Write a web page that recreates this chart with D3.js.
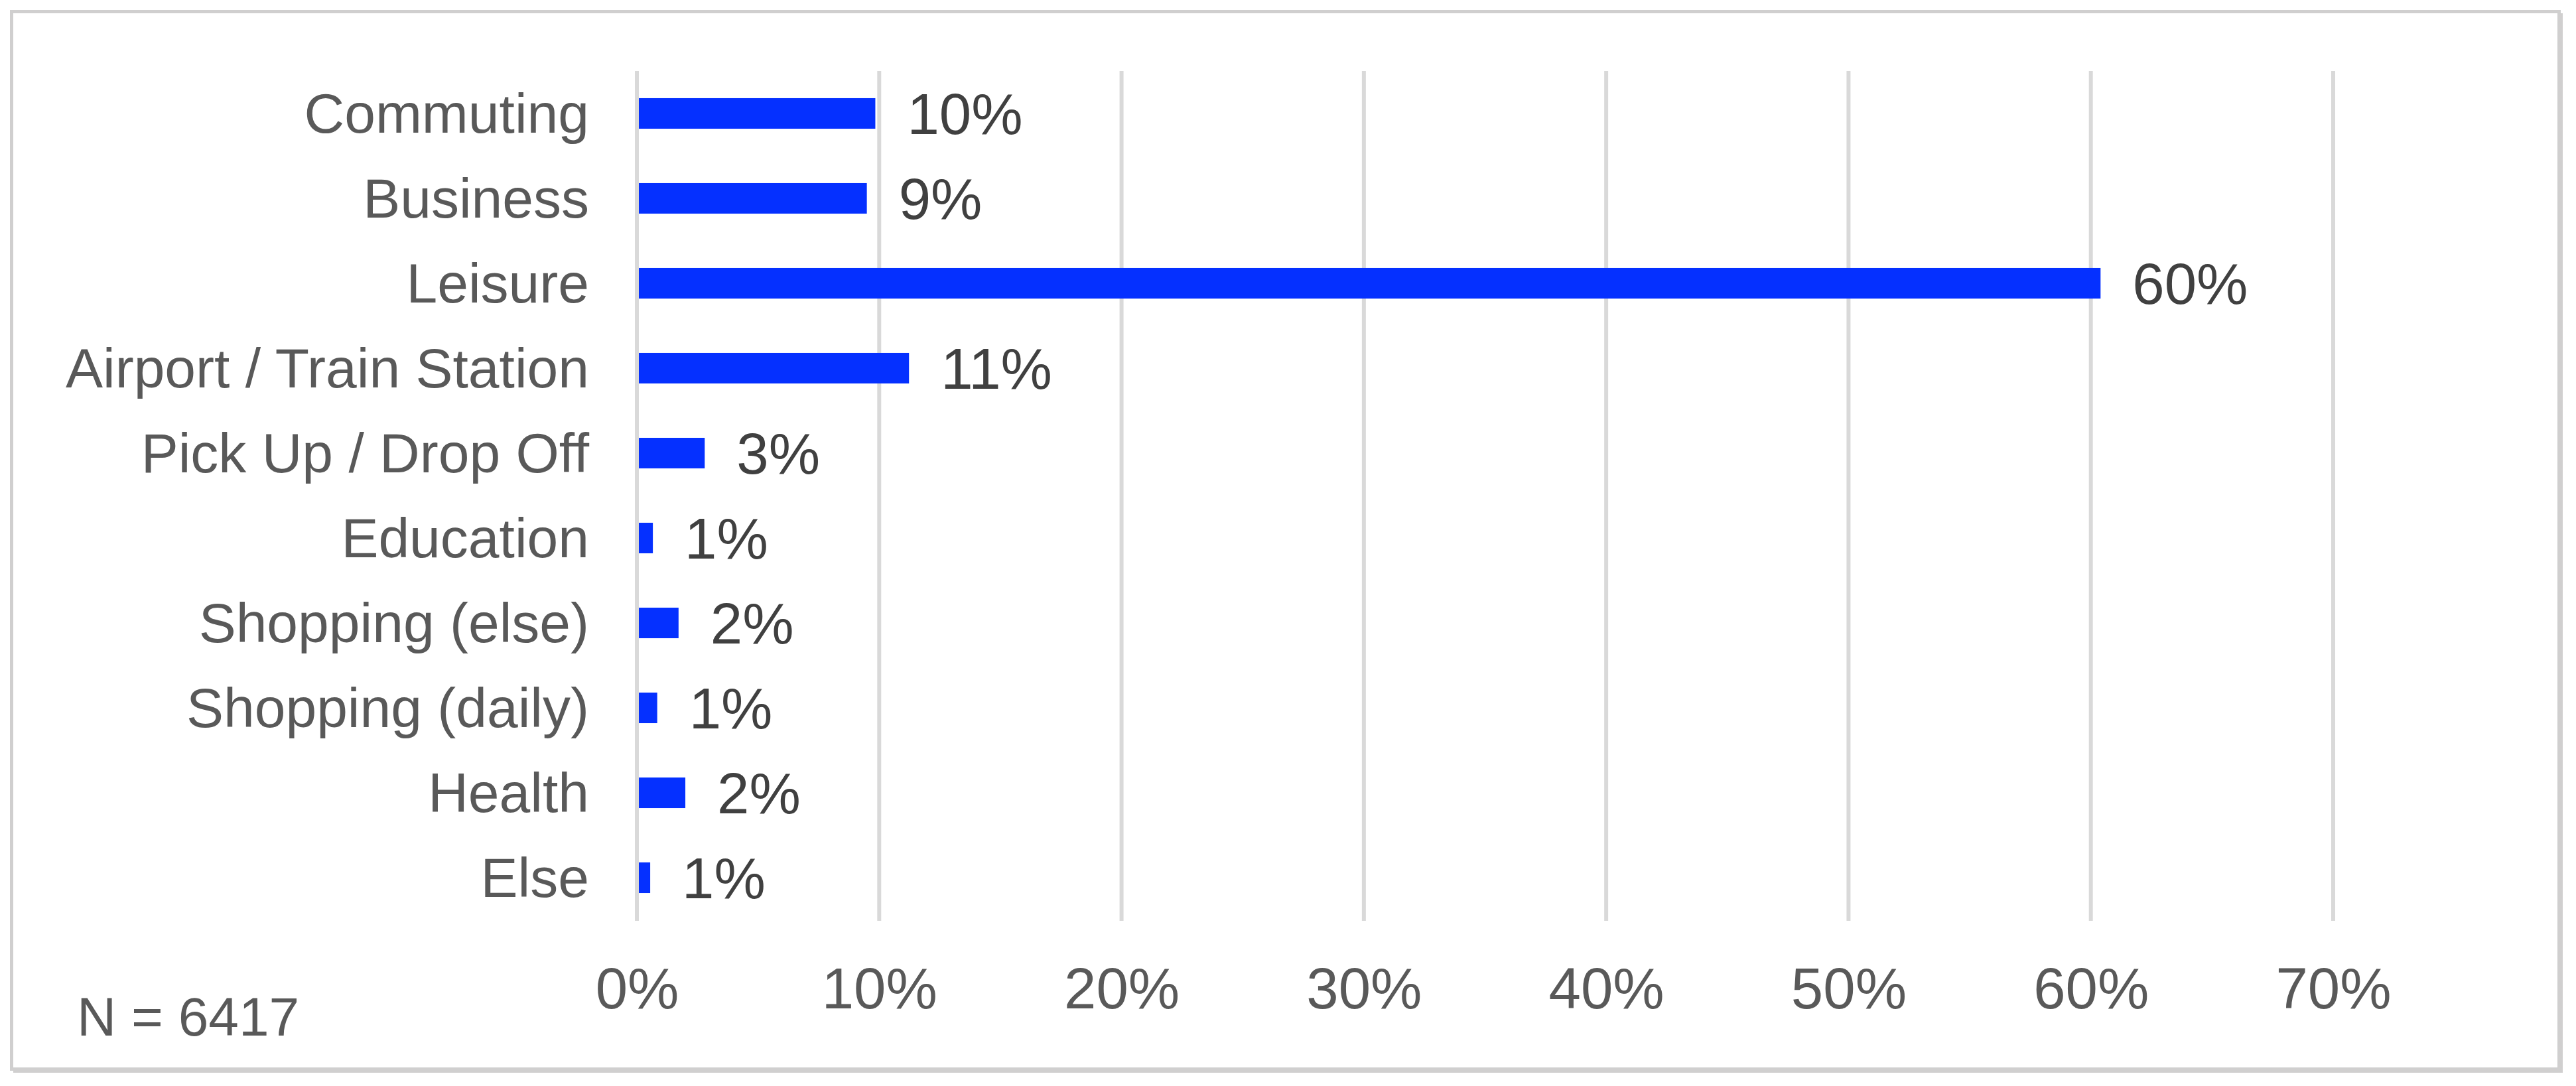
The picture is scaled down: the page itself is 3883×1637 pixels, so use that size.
<!DOCTYPE html>
<meta charset="utf-8">
<style>
body { margin: 0; background: #fff; }
text { font-family: "Liberation Sans", Arial, sans-serif; }
</style>
<body>
<script src="https://d3js.org/d3.v7.min.js"></script>
<script>
// chart data
var categories = ["Commuting", "Business", "Leisure", "Airport / Train Station", "Pick Up / Drop Off",
                  "Education", "Shopping (else)", "Shopping (daily)", "Health", "Else"];
var values = [9.84, 9.49, 60.4, 11.23, 2.8, 0.66, 1.72, 0.84, 2.0, 0.55];
var valueLabels = ["10%", "9%", "60%", "11%", "3%", "1%", "2%", "1%", "2%", "1%"];
var tickValues = [0, 10, 20, 30, 40, 50, 60, 70];
var note = "N = 6417";

var W = 3883, H = 1637;

var svg = d3.select("body").append("svg")
    .attr("width", W)
    .attr("height", H);

// frame with a slight shadow on right / bottom
svg.append("rect")
    .attr("x", 20).attr("y", 20)
    .attr("width", 3843).attr("height", 1597)
    .attr("fill", "#d0cfcf");
svg.append("rect")
    .attr("x", 17.5).attr("y", 17.5)
    .attr("width", 3840).attr("height", 1594)
    .attr("fill", "#fff")
    .attr("stroke", "#d0cfcf")
    .attr("stroke-width", 5);

var x = d3.scaleLinear().domain([0, 70]).range([960, 3517]);
var y = d3.scaleBand().domain(categories).range([107, 1387])
    .paddingInner(0.64).paddingOuter(0.32);

// gridlines
svg.append("g")
    .selectAll("line")
    .data(tickValues)
  .enter().append("line")
    .attr("x1", function(d) { return x(d); })
    .attr("x2", function(d) { return x(d); })
    .attr("y1", 107).attr("y2", 1388)
    .attr("stroke", "#d9d9d9")
    .attr("stroke-width", 6);

// bars
svg.selectAll(".bar")
    .data(values)
  .enter().append("rect")
    .attr("class", "bar")
    .attr("x", x(0) + 3)
    .attr("y", function(d, i) { return y(categories[i]); })
    .attr("width", function(d) { return x(d) - x(0) - 3; })
    .attr("height", y.bandwidth())
    .attr("fill", "#0530ff");

// value labels
svg.selectAll(".vlabel")
    .data(values)
  .enter().append("text")
    .attr("class", "vlabel")
    .attr("x", function(d) { return x(d) + 48; })
    .attr("y", function(d, i) { return y(categories[i]) + y.bandwidth() / 2; })
    .attr("dy", "0.36em")
    .style("font-size", "87px")
    .attr("fill", "#404040")
    .text(function(d, i) { return valueLabels[i]; });

// category axis
var yAxis = svg.append("g")
    .attr("transform", "translate(888,0)")
    .call(d3.axisLeft(y).tickSize(0).tickPadding(0));
yAxis.attr("font-family", null);
yAxis.select(".domain").remove();
yAxis.selectAll("text")
    .style("font-size", "84px")
    .attr("fill", "#595959")
    .attr("dy", "0.34em");

// value axis
var xAxis = svg.append("g")
    .attr("transform", "translate(0,1457)")
    .call(d3.axisBottom(x).tickValues(tickValues).tickSize(0).tickPadding(0)
      .tickFormat(function(d) { return d + "%"; }));
xAxis.attr("font-family", null);
xAxis.select(".domain").remove();
xAxis.selectAll("text")
    .style("font-size", "87px")
    .attr("fill", "#595959")
    .attr("dy", "0.72em");

svg.append("text")
    .attr("x", 116).attr("y", 1561)
    .style("font-size", "82px")
    .attr("fill", "#595959")
    .text(note);
</script>
</body>
